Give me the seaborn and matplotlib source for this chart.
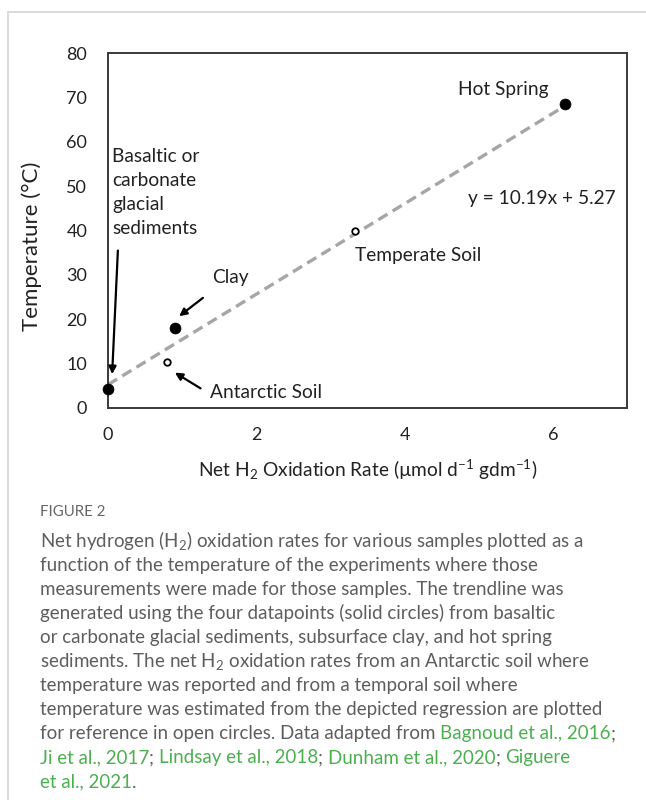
import numpy as np
import pandas as pd
import matplotlib
matplotlib.use("Agg")
import matplotlib.pyplot as plt
import seaborn as sns
from matplotlib.lines import Line2D

# data
solid_names = ["Basaltic or carbonate glacial sediments", "Clay", "Hot Spring"]
solid_rate = [0.0, 0.9, 6.16]
solid_temp = [4.2, 18.0, 68.6]

open_names = ["Antarctic Soil", "Temperate Soil"]
open_rate = [0.8, 3.33]
open_temp = [10.3, 39.8]

# trendline from the chart's equation
trend_slope = 10.19
trend_intercept = 5.27

x_ticks = [0, 2, 4, 6]
y_ticks = [0, 10, 20, 30, 40, 50, 60, 70, 80]

caption_lines = [
    [("Net hydrogen (H$_2$) oxidation rates for various samples plotted as a", "g")],
    [("function of the temperature of the experiments where those", "g")],
    [("measurements were made for those samples. The trendline was", "g")],
    [("generated using the four datapoints (solid circles) from basaltic", "g")],
    [("or carbonate glacial sediments, subsurface clay, and hot spring", "g")],
    [("sediments. The net H$_2$ oxidation rates from an Antarctic soil where", "g")],
    [("temperature was reported and from a temporal soil where", "g")],
    [("temperature was estimated from the depicted regression are plotted", "g")],
    [("for reference in open circles. Data adapted from ", "g"), ("Bagnoud et al., 2016", "l"), (";", "g")],
    [("Ji et al., 2017", "l"), ("; ", "g"), ("Lindsay et al., 2018", "l"), ("; ", "g"),
     ("Dunham et al., 2020", "l"), ("; ", "g"), ("Giguere", "l")],
    [("et al., 2021", "l"), (".", "g")],
]

sns.set_style("white")
plt.rcParams["font.family"] = ["Lato", "DejaVu Sans"]
plt.rcParams["mathtext.fontset"] = "custom"
plt.rcParams["mathtext.rm"] = "Lato"
plt.rcParams["mathtext.it"] = "Lato:italic"
plt.rcParams["mathtext.bf"] = "Lato:bold"

W, H = 646, 800
fig = plt.figure(figsize=(W / 100, H / 100), dpi=100)
ax = fig.add_axes([108 / W, 1 - 408 / H, 519 / W, 355 / H])

# trendline
x_line = np.linspace(0, max(solid_rate), 50)
trend = pd.DataFrame({"x": x_line, "y": trend_slope * x_line + trend_intercept})
sns.lineplot(data=trend, x="x", y="y", ax=ax, color="#a6a6a6", lw=2.4,
             dashes=False, zorder=2)
ax.lines[-1].set_dashes([3.2, 1.8])

solid = pd.DataFrame({"rate": solid_rate, "temp": solid_temp})
opened = pd.DataFrame({"rate": open_rate, "temp": open_temp})
sns.scatterplot(data=solid, x="rate", y="temp", ax=ax, color="black", s=62,
                edgecolor="black", linewidth=0.5, zorder=4, clip_on=False)
sns.scatterplot(data=opened, x="rate", y="temp", ax=ax, facecolor="white", s=22,
                edgecolor="black", linewidth=1.3, zorder=4, clip_on=False)

ax.set_xlim(0, 7)
ax.set_ylim(0, 80)
ax.set_xticks(x_ticks)
ax.set_yticks(y_ticks)
ax.tick_params(axis="both", length=0, labelsize=13, colors="#222222")
ax.tick_params(axis="y", pad=15)
ax.tick_params(axis="x", pad=14)
for sp in ax.spines.values():
    sp.set_visible(True)
    sp.set_color("#3a3a3a")
    sp.set_linewidth(1.4)

ax.set_xlabel("Net H$_2$ Oxidation Rate (µmol d$^{-1}$ gdm$^{-1}$)", fontsize=13.8,
              color="#222222", labelpad=10)
ax.set_ylabel("Temperature (°C)", fontsize=16, color="#222222")
ax.yaxis.set_label_coords(-0.127, 0.455)

# labels and arrows
txt_kw = dict(fontsize=13.8, color="#222222")
ax.text(4.72, 71.7, "Hot Spring", ha="left", va="center", **txt_kw)
ax.text(4.86, 47.1, f"y = {trend_slope}x + {trend_intercept}", ha="left", va="center", **txt_kw)
ax.text(3.33, 34.3, "Temperate Soil", ha="left", va="center", **txt_kw)
ax.text(0.054, 58.6, "Basaltic or\ncarbonate\nglacial\nsediments", ha="left", va="top",
        linespacing=1.5, **txt_kw)
ax.text(1.40, 29.5, "Clay", ha="left", va="center", **txt_kw)
ax.text(1.38, 3.6, "Antarctic Soil", ha="left", va="center", **txt_kw)

arrow_kw = dict(arrowstyle="-|>", color="black", lw=1.6, mutation_scale=11)
ax.annotate("", xy=(0.054, 7.0), xytext=(0.135, 36.1), arrowprops=arrow_kw)
ax.annotate("", xy=(0.93, 20.3), xytext=(1.31, 25.2), arrowprops=arrow_kw)
ax.annotate("", xy=(0.87, 8.3), xytext=(1.28, 4.1), arrowprops=arrow_kw)

# outer frame lines
fig.add_artist(Line2D([8 / W, 1], [1 - 12 / H, 1 - 12 / H], color="#d4d4d4", lw=1.2))
fig.add_artist(Line2D([8 / W, 8 / W], [0, 1 - 12 / H], color="#d4d4d4", lw=1.2))

# caption
fig.text(40 / W, 1 - 512 / H, "FIGURE 2", fontsize=10.8, color="#666666",
         ha="left", va="center")
colors = {"g": "#5e5e5e", "l": "#4caf50"}
renderer = fig.canvas.get_renderer()
for i, segs in enumerate(caption_lines):
    y = 1 - (541 + i * 24.1) / H
    x = 40 / W
    for s, c in segs:
        t = fig.text(x, y, s, fontsize=13.5, color=colors[c], ha="left", va="center")
        x += t.get_window_extent(renderer).width / W

fig.savefig("out.png", dpi=100)
